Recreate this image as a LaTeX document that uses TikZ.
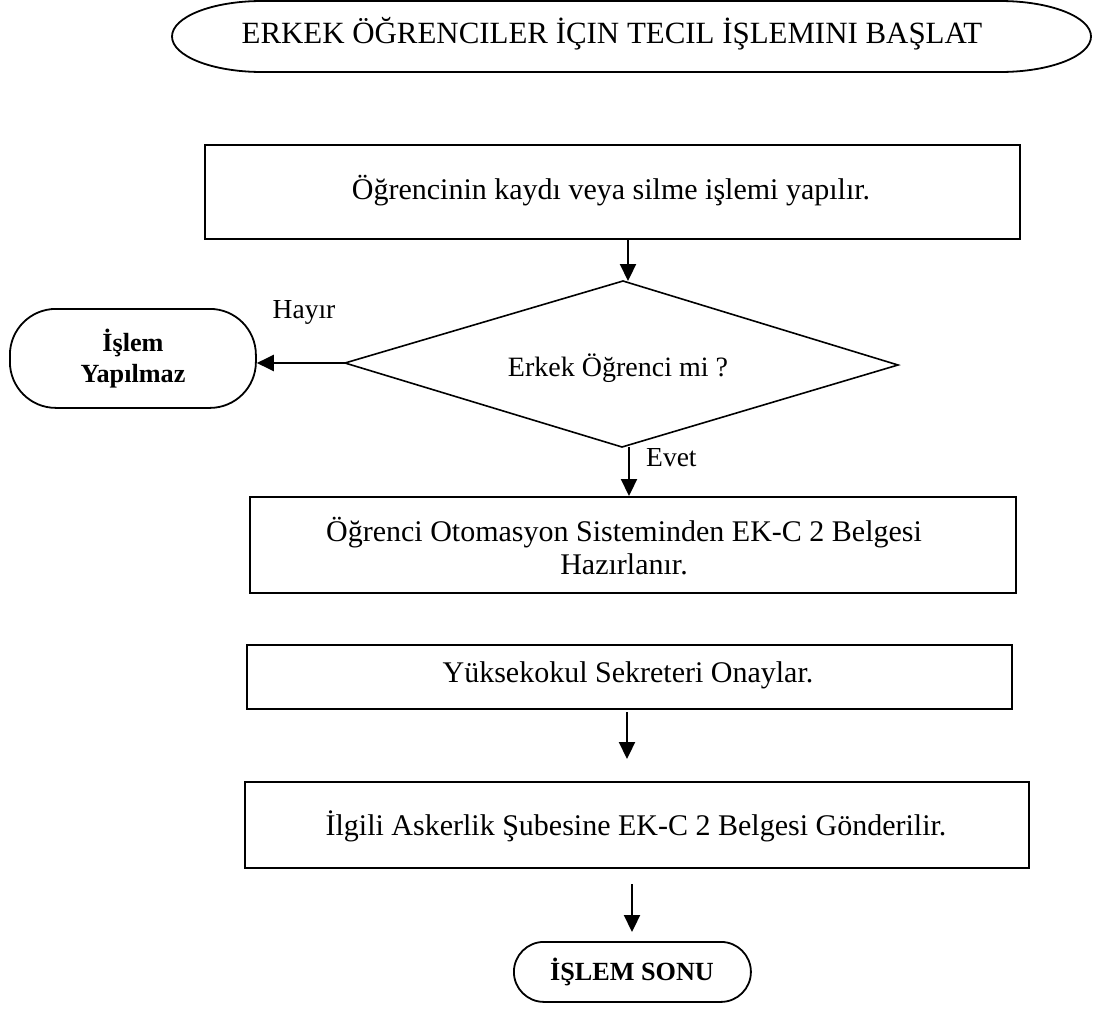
\documentclass[tikz,border=0pt]{standalone}
\usepackage{fontspec}
\setmainfont{Liberation Serif}
\usetikzlibrary{arrows.meta}
\begin{document}
\begin{tikzpicture}[x=1pt,y=-1pt,
  stroke/.style={line width=1.8pt},
  stepbox/.style={draw,stroke,rectangle,inner sep=0pt,anchor=north west},
  txt/.style={font=\fontsize{30}{33}\selectfont,inner sep=0pt,align=center},
  lbl/.style={font=\fontsize{27.5}{30}\selectfont,inner sep=0pt},
  btxt/.style={font=\fontsize{26.2}{31}\selectfont\bfseries,inner sep=0pt,align=center},
  arr/.style={line width=2.2pt,-{Triangle[length=17pt,width=16pt]}},
  term/.style={draw,stroke,rectangle,rounded corners=46pt,inner sep=0pt,anchor=north west}]
\useasboundingbox (0,0) rectangle (1099,1017);

% start terminator with elliptical ends
\draw[stroke] (262,1) -- (1000,1) arc[start angle=-90,end angle=90,x radius=91,y radius=35.5]
  -- (262,72) arc[start angle=90,end angle=270,x radius=90,y radius=35.5] -- cycle;
\node[txt,font=\fontsize{30.9}{33}\selectfont,anchor=base] (start) at (612,43) {ERKEK ÖĞRENCILER İÇIN TECIL İŞLEMINI BAŞLAT};

% process boxes
\node[stepbox,minimum width=815pt,minimum height=94pt] (b1) at (204,144) {};
\node[txt] (t1) at (611,191) {Öğrencinin kaydı veya silme işlemi yapılır.};

\node[stepbox,minimum width=766pt,minimum height=96pt] (b2) at (249,496) {};
\node[txt] (t2) at (624,546) {Öğrenci Otomasyon Sisteminden EK-C 2 Belgesi\\Hazırlanır.};

\node[stepbox,minimum width=765pt,minimum height=64pt] (b3) at (246,644) {};
\node[txt] (t3) at (628,675) {Yüksekokul Sekreteri Onaylar.};

\node[stepbox,minimum width=784pt,minimum height=86pt] (b4) at (244,781) {};
\node[txt] (t4) at (636,826) {İlgili Askerlik Şubesine EK-C 2 Belgesi Gönderilir.};

% decision
\coordinate (dt) at (623,281);
\coordinate (dr) at (898,365);
\coordinate (db) at (622,447);
\coordinate (dl) at (345,363);
\draw[line width=1.6pt] (dt) -- (dr) -- (db) -- (dl) -- cycle;
\node[txt,font=\fontsize{28}{30}\selectfont] (q) at (618,368) {Erkek Öğrenci mi ?};

% terminators
\node[term,minimum width=246pt,minimum height=99pt] (no) at (9,308) {};
\node[btxt] (tno) at (133,359) {İşlem\\Yapılmaz};
\node[term,minimum width=237pt,minimum height=60pt,rounded corners=30pt] (end) at (513,941) {};
\node[btxt] (tend) at (632,972) {İŞLEM SONU};

% connectors
\coordinate (a1) at (628,238);
\coordinate (a1e) at (628,281);
\draw[arr] (a1) -- (a1e);
\draw[arr] (dl) -- (no.east |- dl);
\node[lbl,anchor=center] (hayir) at (304,312) {Hayır};
\coordinate (a2) at (629,447);
\coordinate (a2e) at (629,496);
\draw[arr] (a2) -- (a2e);
\node[lbl,anchor=west] (evet) at (646,458) {Evet};
\coordinate (a3) at (627,712);
\coordinate (a3e) at (627,759);
\draw[arr] (a3) -- (a3e);
\coordinate (a4) at (632,884);
\coordinate (a4e) at (632,932);
\draw[arr] (a4) -- (a4e);
\end{tikzpicture}
\end{document}
